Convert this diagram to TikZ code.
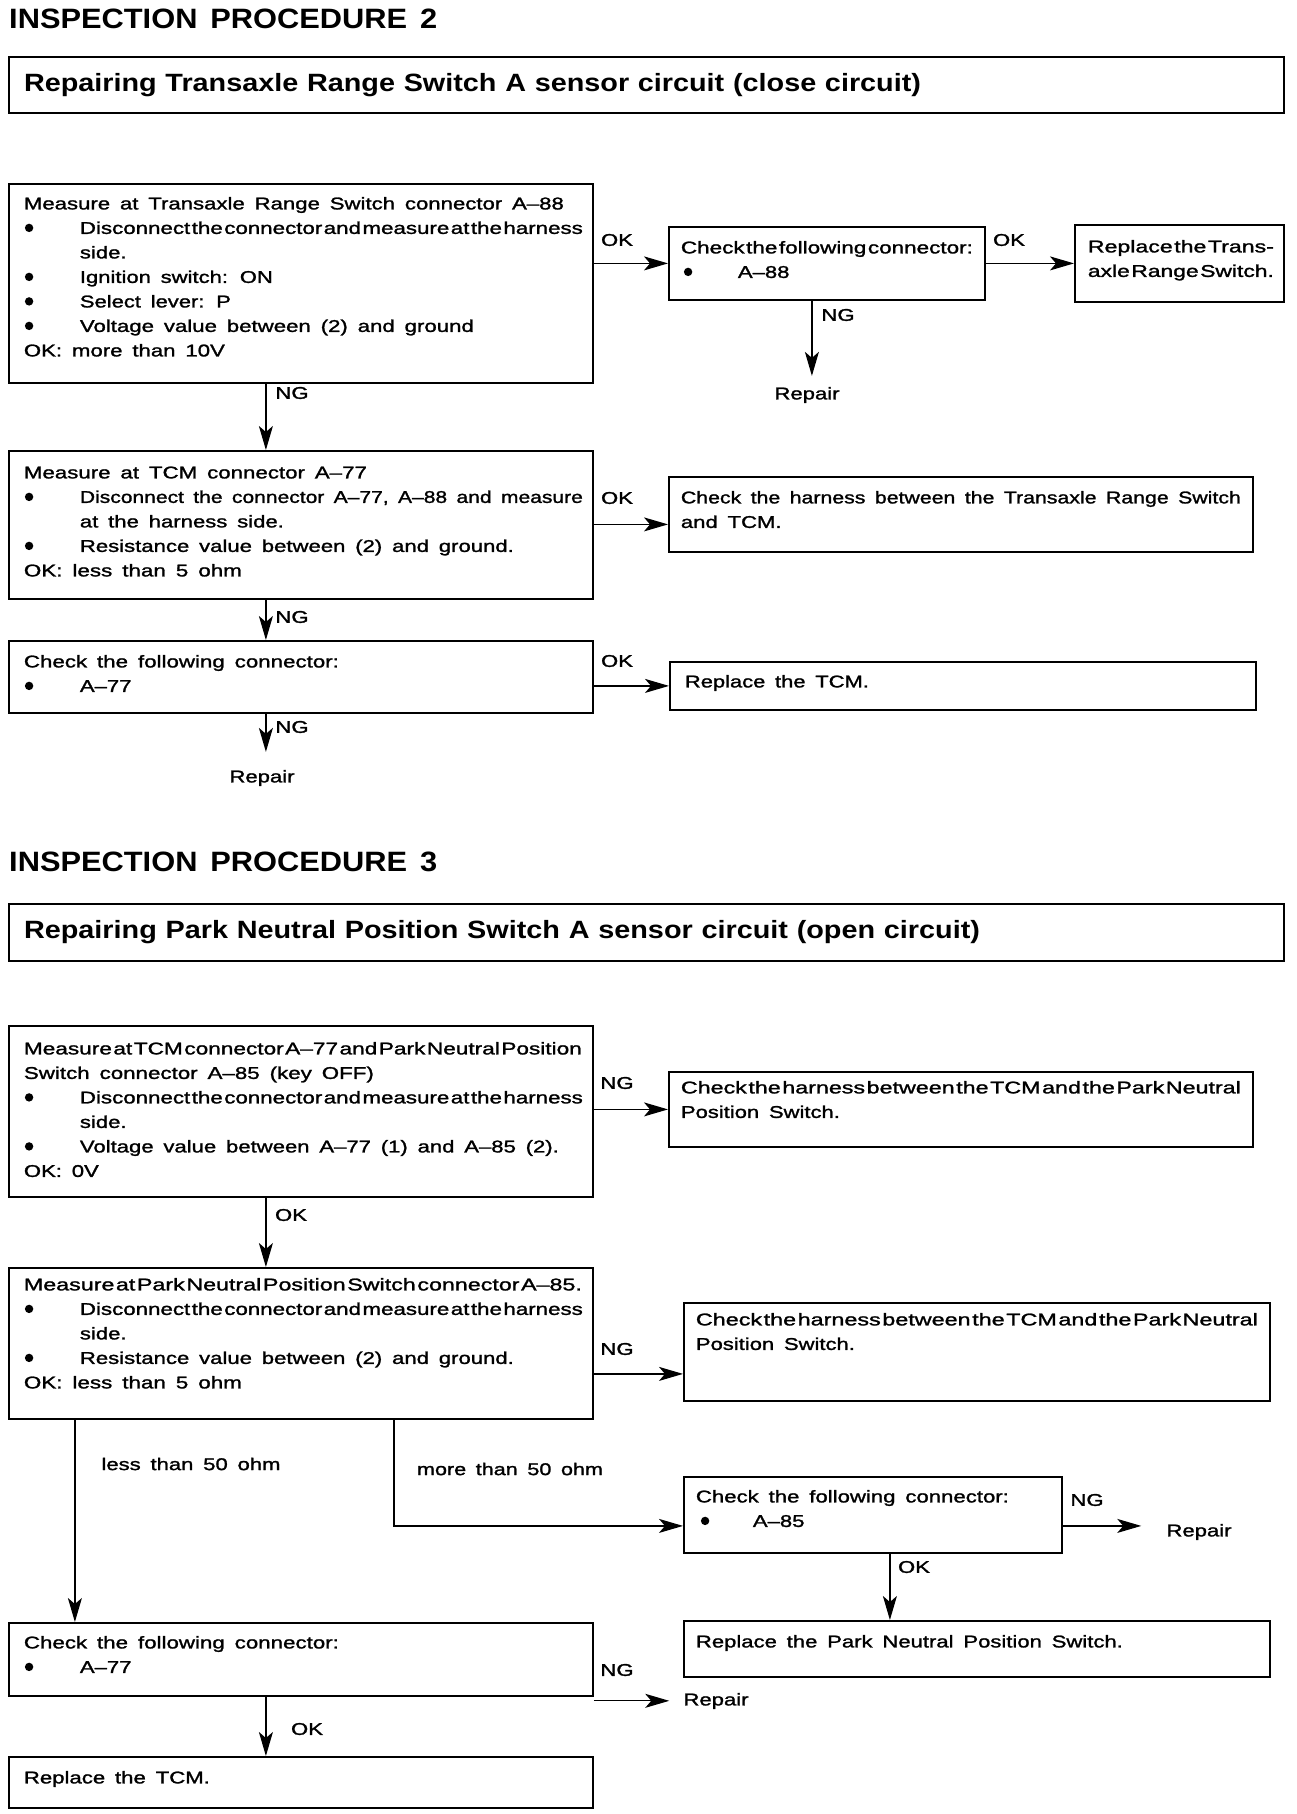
\documentclass[tikz,border=0pt]{standalone}
\usepackage{fontspec}
\usepackage{graphicx}
\setmainfont{Liberation Sans}[FakeStretch=1.3,WordSpace=1.6,FakeBold=1.5]
\newfontfamily\headfont{Liberation Sans}[FakeStretch=1.1,WordSpace=1.5]
\usetikzlibrary{arrows.meta}
\newcommand\mystrut{\rule[-7pt]{0pt}{24.5pt}}
\newcommand\Ln[1]{\mbox{\mystrut#1}\par}
\newcommand\dotmark{\tikz[baseline=0pt]\fill (4.2pt,6pt) circle[radius=4.2pt];}
\newcommand\bi{\makebox[56pt][l]{\hspace{1pt}\dotmark}}
\newcommand\fw[2]{\resizebox{#1}{\height}{#2}}
\newcommand\ft[2]{\resizebox{#1}{\height}{\spaceskip=1.5pt\relax#2}}
\newcommand\bx[5]{\parbox[t][#2][t]{#1}{\parindent=0pt\leftskip=#3\relax\vspace*{#4}#5}}
\begin{document}
\begin{tikzpicture}[x=1pt,y=-1pt,
  box/.style={draw, line width=1.8pt, inner sep=0pt, anchor=north west, font=\fontsize{17}{24.5}\selectfont},
  conn/.style={line width=1.3pt, -{Stealth[length=24pt,width=14pt,inset=6pt]}},
  lab/.style={inner sep=0pt, font=\fontsize{17}{20}\selectfont},
  head/.style={inner sep=0pt, anchor=west, font=\headfont\bfseries\fontsize{28}{32}\selectfont},
  tbox/.style={draw, line width=2pt, inner ysep=0pt, inner xsep=15pt, anchor=north west, align=left, font=\headfont\bfseries\fontsize{25}{28}\selectfont}]
\useasboundingbox (0,0) rectangle (1296,1814);

% ---------------- Procedure 2 ----------------
\node[head] (h2) at (9,19) {\fw{428pt}{INSPECTION PROCEDURE 2}};
\node[tbox, text width=1245pt, minimum height=56pt] (t2) at (8,56) {\fw{897pt}{Repairing Transaxle Range Switch A sensor circuit (close circuit)}};

\node[box] (b1) at (8,183) {\bx{584pt}{199pt}{15pt}{8pt}{%
  \Ln{\fw{540pt}{Measure at Transaxle Range Switch connector A–88}}
  \Ln{\bi\ft{503pt}{Disconnect the connector and measure at the harness}}
  \Ln{\hspace{56pt}side.}
  \Ln{\bi\fw{193pt}{Ignition switch: ON}}
  \Ln{\bi\fw{151pt}{Select lever: P}}
  \Ln{\bi\fw{394pt}{Voltage value between (2) and ground}}
  \Ln{\fw{201pt}{OK: more than 10V}}}};

\node[box] (b2) at (668,226) {\bx{316pt}{73pt}{12pt}{9pt}{%
  \Ln{\ft{292pt}{Check the following connector:}}
  \Ln{\makebox[57pt][l]{\hspace{3pt}\dotmark}A–88}}};

\node[box] (b3) at (1074,224) {\bx{209pt}{77pt}{13pt}{10pt}{%
  \Ln{\ft{186pt}{Replace the Trans-}}
  \Ln{\ft{186pt}{axle Range Switch.}}}};

\node[box] (b4) at (8,450) {\bx{584pt}{148pt}{15pt}{10pt}{%
  \Ln{\fw{343pt}{Measure at TCM connector A–77}}
  \Ln{\bi\fw{503pt}{Disconnect the connector A–77, A–88 and measure}}
  \Ln{\hspace{56pt}\fw{204pt}{at the harness side.}}
  \Ln{\bi\fw{434pt}{Resistance value between (2) and ground.}}
  \Ln{\fw{218pt}{OK: less than 5 ohm}}}};

\node[box] (b5) at (668,476) {\bx{584pt}{75pt}{12pt}{9pt}{%
  \Ln{\fw{560pt}{Check the harness between the Transaxle Range Switch}}
  \Ln{and TCM.}}};

\node[box] (b6) at (8,640) {\bx{584pt}{72pt}{15pt}{9pt}{%
  \Ln{\fw{315pt}{Check the following connector:}}
  \Ln{\bi A–77}}};

\node[box] (b7) at (669,661) {\bx{586pt}{48pt}{15pt}{8pt}{%
  \Ln{\fw{184pt}{Replace the TCM.}}}};

% connectors, procedure 2
\draw[conn] (b1.east |- b2.west) -- (b2.west);
\node[lab] (okA) at (617,240) {OK};
\draw[conn] (b2.east) -- (b3.west);
\node[lab] (okB) at (1009,240) {OK};
\node[lab] (r1) at (807,395) {Repair};
\draw[conn, shorten >=11pt] ([xshift=-15pt]b2.south) -- ([xshift=-15pt]b2.south |- r1.north);
\node[lab] (ngA) at (838,315) {NG};

\draw[conn] ([xshift=-35pt]b1.south) -- ([xshift=-35pt]b4.north);
\node[lab] (ngB) at (292,393) {NG};

\coordinate (p5) at ([yshift=-10pt]b5.west);
\draw[conn] (b4.east |- p5) -- (p5);
\node[lab] (okC) at (617,498) {OK};

\draw[conn] ([xshift=-35pt]b4.south) -- ([xshift=-35pt]b6.north);
\node[lab] (ngC) at (292,617) {NG};

\draw[conn] (b6.east |- b7.west) -- (b7.west);
\node[lab] (okD) at (617,661) {OK};

\node[lab] (r2) at (262,778) {Repair};
\draw[conn, shorten >=18pt] ([xshift=-35pt]b6.south) -- ([xshift=-35pt]b6.south |- r2.north);
\node[lab] (ngD) at (292,727) {NG};

% ---------------- Procedure 3 ----------------
\node[head] (h3) at (9,862) {\fw{428pt}{INSPECTION PROCEDURE 3}};
\node[tbox, text width=1245pt, minimum height=57pt] (t3) at (8,903) {\fw{956pt}{Repairing Park Neutral Position Switch A sensor circuit (open circuit)}};

\node[box] (c1) at (8,1025) {\bx{584pt}{171pt}{15pt}{11pt}{%
  \Ln{\ft{558pt}{Measure at TCM connector A–77 and Park Neutral Position}}
  \Ln{\fw{350pt}{Switch connector A–85 (key OFF)}}
  \Ln{\bi\ft{503pt}{Disconnect the connector and measure at the harness}}
  \Ln{\hspace{56pt}side.}
  \Ln{\bi\fw{479pt}{Voltage value between A–77 (1) and A–85 (2).}}
  \Ln{OK: 0V}}};

\node[box] (c2) at (668,1071) {\bx{584pt}{75pt}{12pt}{4pt}{%
  \Ln{\ft{560pt}{Check the harness between the TCM and the Park Neutral}}
  \Ln{\fw{159pt}{Position Switch.}}}};

\node[box] (c3) at (8,1267) {\bx{584pt}{151pt}{15pt}{5pt}{%
  \Ln{\ft{558pt}{Measure at Park Neutral Position Switch connector A–85.}}
  \Ln{\bi\ft{503pt}{Disconnect the connector and measure at the harness}}
  \Ln{\hspace{56pt}side.}
  \Ln{\bi\fw{434pt}{Resistance value between (2) and ground.}}
  \Ln{\fw{218pt}{OK: less than 5 ohm}}}};

\node[box] (c4) at (683,1302) {\bx{586pt}{98pt}{12pt}{5pt}{%
  \Ln{\ft{562pt}{Check the harness between the TCM and the Park Neutral}}
  \Ln{\fw{159pt}{Position Switch.}}}};

\node[box] (c6) at (683,1476) {\bx{378pt}{76pt}{12pt}{8pt}{%
  \Ln{\fw{313pt}{Check the following connector:}}
  \Ln{\makebox[57pt][l]{\hspace{5pt}\dotmark}A–85}}};

\node[box] (c7) at (683,1620) {\bx{586pt}{56pt}{12pt}{9pt}{%
  \Ln{\fw{427pt}{Replace the Park Neutral Position Switch.}}}};

\node[box] (c5) at (8,1622) {\bx{584pt}{73pt}{15pt}{8pt}{%
  \Ln{\fw{315pt}{Check the following connector:}}
  \Ln{\bi A–77}}};

\node[box] (c8) at (8,1756) {\bx{584pt}{51pt}{15pt}{9pt}{%
  \Ln{\fw{186pt}{Replace the TCM.}}}};

% connectors, procedure 3
\draw[conn] (c1.east |- c2.west) -- (c2.west);
\node[lab] (ngE) at (617,1083) {NG};

\draw[conn] ([xshift=-35pt]c1.south) -- ([xshift=-35pt]c3.north);
\node[lab] (okE) at (291,1215) {OK};

\coordinate (p4) at ([yshift=-22pt]c4.west);
\draw[conn] (c3.east |- p4) -- (p4);
\node[lab] (ngF) at (617,1349) {NG};

\draw[conn] ([xshift=-226pt]c3.south) -- ([xshift=-226pt]c3.south |- c5.north);
\node[lab] (less) at (191,1464) {\fw{179pt}{less than 50 ohm}};

\coordinate (p6) at ([yshift=-11pt]c6.west);
\draw[conn] ([xshift=93pt]c3.south) |- (p6);
\node[lab] (more) at (510,1469) {\fw{186pt}{more than 50 ohm}};

\node[lab] (r4) at (1199,1532) {Repair};
\draw[conn, shorten >=25pt] (p6 -| c6.east) -- (p6 -| r4.west);
\node[lab] (ngG) at (1087,1500) {NG};

\draw[conn] ([xshift=17pt]c6.south) -- ([xshift=17pt]c6.south |- c7.north);
\node[lab] (okF) at (914,1567) {OK};

\node[lab] (r3) at (716,1701) {Repair};
\coordinate (p3) at ([yshift=-4pt]c5.south east);
\draw[conn, shorten >=14pt] (p3) -- (p3 -| r3.west);
\node[lab] (ngH) at (617,1670) {NG};

\draw[conn] ([xshift=-35pt]c5.south) -- ([xshift=-35pt]c8.north);
\node[lab] (okG) at (307,1729) {OK};
\end{tikzpicture}
\end{document}
